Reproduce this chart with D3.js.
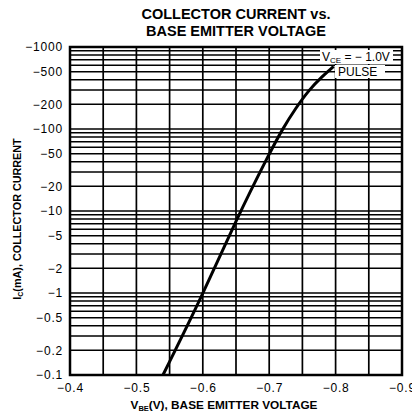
<!DOCTYPE html>
<html><head><meta charset="utf-8">
<script src="https://cdn.jsdelivr.net/npm/d3@7/dist/d3.min.js"></script>
<style>
html,body{margin:0;padding:0;background:#fff;}
svg{display:block;font-family:"Liberation Sans",Arial,Helvetica,sans-serif;}
</style></head>
<body>
<svg id="c" width="412" height="416"></svg>
<script>
// Data
const vbe = [-0.54, -0.60, -0.65, -0.70, -0.72, -0.74, -0.76, -0.78, -0.797];
const ic  = [-0.1, -0.95, -7.8, -50, -100, -180, -300, -440, -580];
const xTicks = [-0.4, -0.5, -0.6, -0.7, -0.8, -0.9];
const xGrid = [-0.4,-0.45,-0.5,-0.55,-0.6,-0.65,-0.7,-0.75,-0.8,-0.85,-0.9];
const yTicks = [-1000,-500,-200,-100,-50,-20,-10,-5,-2,-1,-0.5,-0.2,-0.1];
const yTickLabels = ["−1000","−500","−200","−100","−50","−20","−10","−5","−2","−1","−0.5","−0.2","−0.1"];
const titleLines = ["COLLECTOR CURRENT vs.","BASE EMITTER VOLTAGE"];

const svg = d3.select("#c");
const L=70, R=402, T=47, B=375;
const x = d3.scaleLinear().domain([-0.4,-0.9]).range([L,R]);
const y = d3.scaleLog().domain([-0.1,-1000]).range([B,T]);

// grid
const yGrid=[];
[0.1,1,10,100].forEach(d=>{for(let k=1;k<10;k++) yGrid.push(-k*d);});
yGrid.push(-1000);

const g = svg.append("g");
g.selectAll(".hg").data(yGrid).enter().append("line")
  .attr("x1",L).attr("x2",R).attr("y1",d=>y(d)).attr("y2",d=>y(d))
  .attr("stroke","#000").attr("stroke-width",1.5);
g.selectAll(".vg").data(xGrid).enter().append("line")
  .attr("y1",T).attr("y2",B).attr("x1",d=>x(d)).attr("x2",d=>x(d))
  .attr("stroke","#000").attr("stroke-width",1.7);

// frame
svg.append("rect").attr("x",L).attr("y",T).attr("width",R-L).attr("height",B-T)
  .attr("fill","none").attr("stroke","#000").attr("stroke-width",2.5);

// curve
const line = d3.line().x((d,i)=>x(vbe[i])).y((d,i)=>y(ic[i])).curve(d3.curveBasis);
svg.append("path").datum(vbe).attr("d",line).attr("fill","none")
  .attr("stroke","#000").attr("stroke-width",3);

// legend labels with white boxes
const lg = svg.append("g");
lg.append("rect").attr("x",320).attr("y",50).attr("width",73).attr("height",14).attr("fill","#fff");
lg.append("rect").attr("x",335).attr("y",65).attr("width",50).attr("height",13).attr("fill","#fff");
const t1 = lg.append("text").attr("x",322).attr("y",61).attr("font-size",12);
t1.append("tspan").text("V");
t1.append("tspan").attr("font-size",8).attr("dy",2).text("CE");
t1.append("tspan").attr("dy",-2).text(" = − 1.0V");
lg.append("text").attr("x",338).attr("y",76).attr("font-size",12).text("PULSE");

// y ticks
const yax = d3.axisLeft(y).tickValues(yTicks).tickSize(0).tickPadding(7)
  .tickFormat((d,i)=>yTickLabels[i]);
const ya = svg.append("g").attr("transform",`translate(${L},0)`).call(yax);
ya.select(".domain").remove();
ya.selectAll("text").attr("font-size",12).attr("font-family","Liberation Sans, Arial, sans-serif").attr("fill","#000").attr("letter-spacing","0.8");

// x ticks
const xax = d3.axisBottom(x).tickValues(xTicks).tickSize(0).tickPadding(8)
  .tickFormat(d=>"−"+Math.abs(d).toFixed(1));
const xa = svg.append("g").attr("transform",`translate(0,${B})`).call(xax);
xa.select(".domain").remove();
xa.selectAll("text").attr("font-size",12).attr("font-family","Liberation Sans, Arial, sans-serif").attr("fill","#000").attr("letter-spacing","0.8");

// titles
svg.selectAll(".tt").data(titleLines).enter().append("text")
  .attr("x",236).attr("y",(d,i)=>19+i*17).attr("text-anchor","middle")
  .attr("font-size",14.5).attr("font-weight","bold").text(d=>d);

const xt = svg.append("text").attr("x",224).attr("y",409).attr("text-anchor","middle")
  .attr("font-size",11.8).attr("font-weight","bold");
xt.append("tspan").text("V");
xt.append("tspan").attr("font-size",7.5).attr("dy",2).text("BE");
xt.append("tspan").attr("dy",-2).text("(V), BASE EMITTER VOLTAGE");

const yt = svg.append("text").attr("transform","translate(21,219) rotate(-90)")
  .attr("text-anchor","middle").attr("font-size",10.8).attr("font-weight","bold");
yt.append("tspan").text("I");
yt.append("tspan").attr("font-size",7).attr("dy",2).text("C");
yt.append("tspan").attr("dy",-2).text("(mA), COLLECTOR CURRENT");
</script>
</body></html>
